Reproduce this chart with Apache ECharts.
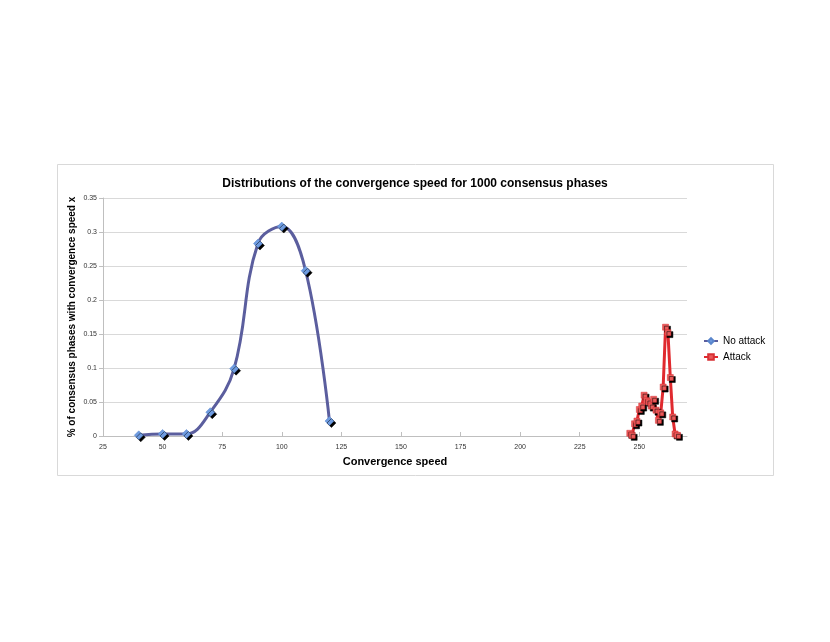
<!DOCTYPE html>
<html>
<head>
<meta charset="utf-8">
<script src="https://cdn.jsdelivr.net/npm/echarts@6/dist/echarts.min.js"></script>
<style>
  html, body { margin: 0; padding: 0; background: #fff; }
  #chart { width: 830px; height: 642px; }
</style>
</head>
<body>
<div id="chart"></div>
<script>
// No attack: convergence speed vs share of phases
const noAttackX = [40, 50, 60, 70, 80, 90, 100, 110, 120];
const noAttackY = [0.001, 0.003, 0.003, 0.035, 0.099, 0.283, 0.308, 0.243, 0.022];

// Attack
const attackX = [246, 247, 248, 249, 250, 251, 252, 253, 254, 255, 256, 257, 258, 259, 260, 261, 262, 263, 264, 265, 266];
const attackY = [0.004, 0.001, 0.018, 0.022, 0.039, 0.044, 0.060, 0.052, 0.050, 0.044, 0.054, 0.038, 0.023, 0.034, 0.072, 0.160, 0.152, 0.086, 0.028, 0.003, 0.001];

const titleText = 'Distributions of the convergence speed for 1000 consensus phases';
const xName = 'Convergence speed';
const yName = '% of consensus phases with convergence speed x';

const toPairs = (xs, ys) => xs.map((x, i) => [x, ys[i]]);

const chart = echarts.init(document.getElementById('chart'));
chart.setOption({
  backgroundColor: '#fff',
  animation: false,
  title: {
    text: titleText,
    left: 'center',
    top: 173,
    textStyle: {
      fontFamily: "'Liberation Sans', sans-serif",
      fontSize: 12,
      fontWeight: 'bold',
      color: '#000'
    }
  },
  graphic: [{
    type: 'rect',
    shape: { x: 57.5, y: 164.5, width: 716, height: 311 },
    style: { fill: 'none', stroke: '#d9d9d9', lineWidth: 1 },
    silent: true
  }],
  legend: {
    orient: 'vertical',
    left: 703,
    top: 336,
    padding: 0,
    itemWidth: 14,
    itemHeight: 7,
    itemGap: 6,
    textStyle: { fontFamily: "'Liberation Sans', sans-serif", fontSize: 10, color: '#000' },
    data: ['No attack', 'Attack']
  },
  grid: { left: 103, right: 143, top: 198, bottom: 206 },
  xAxis: {
    type: 'value',
    min: 25,
    max: 270,
    interval: 25,
    name: xName,
    nameLocation: 'middle',
    nameGap: 20,
    nameMoveOverlap: false,
    nameTextStyle: { fontFamily: "'Liberation Sans', sans-serif", fontSize: 11, fontWeight: 'bold', color: '#000' },
    axisLine: { lineStyle: { color: '#bfbfbf' } },
    axisTick: { show: true, inside: true, length: 4, lineStyle: { color: '#bfbfbf' } },
    axisLabel: { fontFamily: "'Liberation Sans', sans-serif", fontSize: 7, color: '#333', margin: 8, showMaxLabel: false },
    splitLine: { show: false }
  },
  yAxis: {
    type: 'value',
    min: 0,
    max: 0.35,
    interval: 0.05,
    name: yName,
    nameLocation: 'middle',
    nameGap: 26,
    nameMoveOverlap: false,
    nameRotate: 90,
    nameTextStyle: { fontFamily: "'Liberation Sans', sans-serif", fontSize: 10, fontWeight: 'bold', color: '#000' },
    axisLine: { show: true, lineStyle: { color: '#bfbfbf' } },
    axisTick: { show: true, length: 4, lineStyle: { color: '#bfbfbf' } },
    axisLabel: { fontFamily: "'Liberation Sans', sans-serif", fontSize: 7, color: '#333', margin: 6 },
    splitLine: { lineStyle: { color: '#d9d9d9' } }
  },
  series: [
    {
      name: 'No attack',
      type: 'line',
      smooth: 0.4,
      data: toPairs(noAttackX, noAttackY),
      symbol: 'diamond',
      symbolSize: 9,
      lineStyle: { color: '#5b5e9e', width: 3 },
      itemStyle: {
        color: '#6e9be0',
        borderColor: '#5a86cc',
        borderWidth: 0.5,
        shadowColor: '#000',
        shadowOffsetX: 2,
        shadowOffsetY: 2
      }
    },
    {
      name: 'Attack',
      type: 'line',
      data: toPairs(attackX, attackY),
      symbol: 'rect',
      symbolSize: 6,
      lineStyle: { color: '#e02a2f', width: 3 },
      itemStyle: {
        color: '#ea5a5a',
        borderColor: '#d83034',
        borderWidth: 0.5,
        shadowColor: '#000',
        shadowOffsetX: 2,
        shadowOffsetY: 2
      }
    }
  ]
});
</script>
</body>
</html>
